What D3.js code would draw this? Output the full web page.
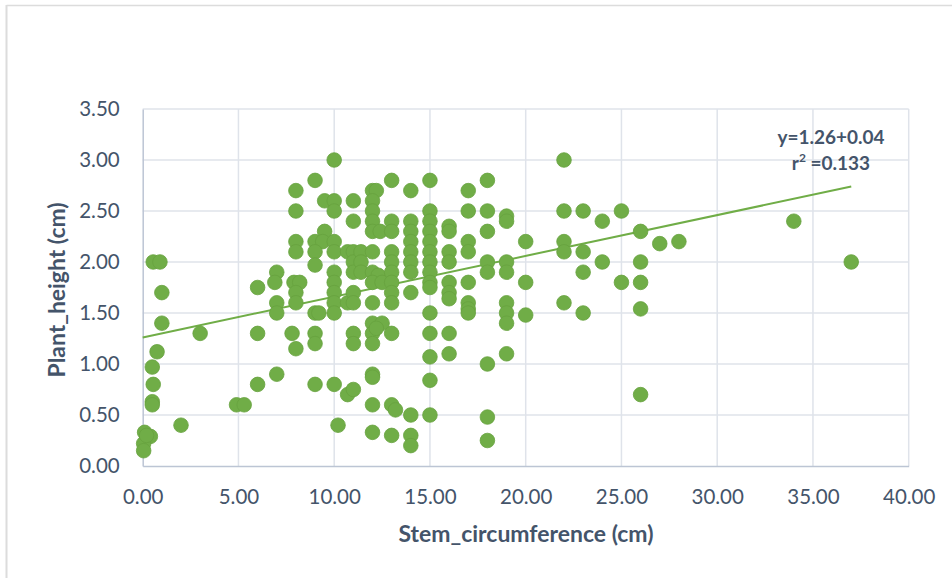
<!DOCTYPE html>
<html>
<head>
<meta charset="utf-8">
<script src="https://cdn.jsdelivr.net/npm/d3@7/dist/d3.min.js"></script>
<style>
  html, body { margin: 0; padding: 0; background: #ffffff; }
  svg { display: block; font-family: Lato, "Open Sans", sans-serif; }
</style>
</head>
<body>
<svg id="chart" width="952" height="578"></svg>
<script>
// Stem circumference (cm) of each plant, paired by index with its height
const stemCircumference = [
  0.55, 0.9, 1.0, 1.0, 0.75, 0.5, 0.55, 0.5, 0.5, 2.0, 0.1, 0.4, 0.05, 0.05, 0.2,
  3.0, 4.9, 5.3, 6.0, 6.0, 6.0,
  7.0, 6.9, 7.0, 7.0, 7.0,
  8.0, 8.0, 8.0, 8.0, 7.9, 8.2, 8.0, 8.0, 7.8, 8.0,
  9.0, 9.5, 9.5, 9.0, 9.4, 9.0, 9.0, 9.0, 9.2, 9.0, 9.0, 9.0,
  10, 10, 10, 10, 10, 10, 10, 10, 10, 10, 10, 10.2,
  10.7, 10.7, 10.7,
  11, 11, 11, 11, 11, 11, 11, 11, 11, 11,
  11.4, 11.4, 11.4,
  12, 12.2, 12, 12, 12, 12, 12.4, 12, 12, 12.3, 12, 12, 12, 12.5, 12, 12, 12.2, 12, 12, 12, 12, 12.5,
  13, 13, 13, 13, 13, 13, 13, 13, 13, 13, 13, 13.2, 13,
  14, 14, 14, 14, 14, 14, 14, 14, 14, 14, 14,
  15, 15, 15, 15, 15, 15, 15, 15, 15, 15, 15, 15, 15, 15, 15,
  16, 16, 16, 16, 16, 16, 16, 16, 16,
  17, 17, 17, 17, 17, 17, 17, 17,
  18, 18, 18, 18, 18, 18, 18, 18,
  19, 19, 19, 19, 19, 19, 19, 19,
  20, 20, 20,
  22, 22, 22, 22, 22,
  23, 23, 23, 23,
  24, 24,
  25, 25,
  26, 26, 26, 26, 26,
  27, 28, 34, 37
];

// Plant height (cm)
const plantHeight = [
  2.0, 2.0, 1.7, 1.4, 1.12, 0.97, 0.8, 0.63, 0.6, 0.4, 0.33, 0.29, 0.22, 0.15, 0.3,
  1.3, 0.6, 0.6, 1.75, 1.3, 0.8,
  1.9, 1.8, 1.6, 1.5, 0.9,
  2.7, 2.5, 2.2, 2.1, 1.8, 1.8, 1.7, 1.6, 1.3, 1.15,
  2.8, 2.6, 2.3, 2.2, 2.2, 2.1, 1.97, 1.5, 1.5, 1.3, 1.2, 0.8,
  3.0, 2.6, 2.5, 2.2, 2.1, 1.9, 1.8, 1.7, 1.6, 1.5, 0.8, 0.4,
  2.1, 1.6, 0.7,
  2.6, 2.4, 2.1, 2.0, 1.9, 1.7, 1.6, 1.3, 1.2, 0.75,
  2.1, 2.0, 1.9,
  2.7, 2.7, 2.6, 2.5, 2.4, 2.3, 2.3, 2.1, 1.9, 1.87, 1.8, 1.6, 1.4, 1.4, 1.3, 1.2, 1.35, 0.9, 0.87, 0.6, 0.33, 1.8,
  2.8, 2.4, 2.3, 2.1, 2.0, 1.9, 1.8, 1.7, 1.6, 1.3, 0.6, 0.55, 0.3,
  2.7, 2.4, 2.3, 2.2, 2.1, 2.0, 1.9, 1.7, 0.5, 0.3, 0.2,
  2.8, 2.5, 2.4, 2.3, 2.2, 2.1, 2.0, 1.9, 1.8, 1.75, 1.5, 1.3, 1.07, 0.84, 0.5,
  2.35, 2.3, 2.1, 2.0, 1.8, 1.7, 1.64, 1.3, 1.1,
  2.7, 2.5, 2.2, 2.1, 1.8, 1.6, 1.54, 1.5,
  2.8, 2.5, 2.3, 2.0, 1.9, 1.0, 0.48, 0.25,
  2.45, 2.4, 2.0, 1.9, 1.6, 1.5, 1.4, 1.1,
  2.2, 1.8, 1.48,
  3.0, 2.5, 2.2, 2.1, 1.6,
  2.5, 2.1, 1.9, 1.5,
  2.4, 2.0,
  2.5, 1.8,
  2.3, 2.0, 1.8, 1.54, 0.7,
  2.18, 2.2, 2.4, 2.0
];

// Axis ticks
const xTicks = [0, 5, 10, 15, 20, 25, 30, 35, 40];
const yTicks = [0, 0.5, 1.0, 1.5, 2.0, 2.5, 3.0, 3.5];

// Linear trend: height = intercept + slope * circumference
const trendIntercept = 1.26;
const trendSlope = 0.04;
const rSquared = 0.133;

const xTitle = "Stem_circumference (cm)";
const yTitle = "Plant_height (cm)";

const svg = d3.select("#chart");
const textColor = "#44546a";
const gridColor = "#dfe3ea";
const axisColor = "#bcc5d4";
const green = "#70ad47";

// chart frame
svg.append("line").attr("x1", 6.5).attr("x2", 952).attr("y1", 5.5).attr("y2", 5.5)
  .attr("stroke", "#dcdcdc").attr("stroke-width", 1.5);
svg.append("line").attr("x1", 6.5).attr("x2", 6.5).attr("y1", 5).attr("y2", 578)
  .attr("stroke", "#dcdcdc").attr("stroke-width", 2);

const x = d3.scaleLinear().domain([0, 40]).range([142.7, 908.7]);
const y = d3.scaleLinear().domain([0, 3.5]).range([466, 109]);

// gridlines
const grid = svg.append("g");
grid.selectAll("line.h").data(yTicks.filter(d => d > 0)).join("line")
  .attr("x1", x(0)).attr("x2", x(40))
  .attr("y1", d => y(d)).attr("y2", d => y(d))
  .attr("stroke", gridColor).attr("stroke-width", 1.5);
grid.selectAll("line.v").data(xTicks.filter(d => d > 0)).join("line")
  .attr("x1", d => x(d)).attr("x2", d => x(d))
  .attr("y1", y(0)).attr("y2", y(3.5))
  .attr("stroke", gridColor).attr("stroke-width", 1.5);

// axes
const xAxis = d3.axisBottom(x).tickValues(xTicks).tickSize(0).tickPadding(23)
  .tickFormat(d3.format(".2f"));
const yAxis = d3.axisLeft(y).tickValues(yTicks).tickSize(0).tickPadding(23)
  .tickFormat(d3.format(".2f"));

const gx = svg.append("g").attr("transform", `translate(0,${y(0)})`).call(xAxis);
const gy = svg.append("g").attr("transform", `translate(${x(0)},0)`).call(yAxis);
[gx, gy].forEach(g => {
  g.select(".domain").attr("stroke", axisColor).attr("stroke-width", 1.5);
  g.selectAll("text").attr("fill", textColor).attr("font-size", 20.5)
    .attr("font-family", "Lato, sans-serif");
});

// trend line across the observed range
const xMax = d3.max(stemCircumference);
svg.append("line")
  .attr("x1", x(0)).attr("y1", y(trendIntercept))
  .attr("x2", x(xMax)).attr("y2", y(trendIntercept + trendSlope * xMax))
  .attr("stroke", green).attr("stroke-width", 2);

// points
const pts = stemCircumference.map((c, i) => ({ c, h: plantHeight[i] }));
svg.append("g").selectAll("circle").data(pts).join("circle")
  .attr("cx", d => x(d.c)).attr("cy", d => y(d.h)).attr("r", 7.3)
  .attr("fill", green).attr("stroke", "#67a23f").attr("stroke-width", 0.8);

// equation
const eq = svg.append("text").attr("x", 831).attr("y", 143.5)
  .attr("text-anchor", "middle").attr("fill", textColor)
  .attr("font-size", 19).attr("font-weight", "bold")
  .attr("textLength", 107).attr("lengthAdjust", "spacingAndGlyphs");
eq.text(`y=${trendIntercept.toFixed(2)}+${trendSlope.toFixed(2)}`);
const r2 = svg.append("text").attr("x", 831).attr("y", 170)
  .attr("text-anchor", "middle").attr("fill", textColor)
  .attr("font-size", 19).attr("font-weight", "bold");
r2.append("tspan").text("r");
r2.append("tspan").attr("dy", -8).attr("font-size", 12).text("2");
r2.append("tspan").attr("dy", 8).text(` =${rSquared}`);

// axis titles
svg.append("text").attr("x", 526).attr("y", 542)
  .attr("text-anchor", "middle").attr("fill", textColor)
  .attr("font-size", 22).attr("font-weight", "bold")
  .attr("textLength", 255).attr("lengthAdjust", "spacingAndGlyphs").text(xTitle);
svg.append("text").attr("transform", "translate(65,290) rotate(-90)")
  .attr("text-anchor", "middle").attr("fill", textColor)
  .attr("font-size", 22).attr("font-weight", "bold")
  .attr("textLength", 175).attr("lengthAdjust", "spacingAndGlyphs").text(yTitle);
</script>
</body>
</html>
